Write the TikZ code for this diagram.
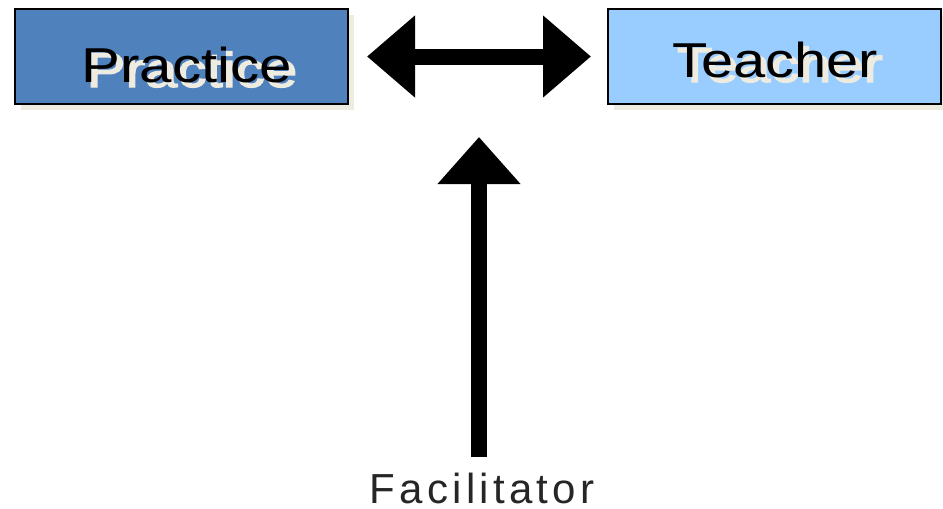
\documentclass[tikz,border=0pt]{standalone}
\usepackage{fontspec}
\setmainfont{Liberation Sans}
\newfontfamily\shfont[FakeBold=2.5]{Liberation Sans}
\newfontfamily\facfont[LetterSpace=10]{Liberation Sans}
\usetikzlibrary{arrows.meta,shadows}
\definecolor{practicefill}{HTML}{4F81BD}
\definecolor{teacherfill}{HTML}{99CCFF}
\definecolor{shadowbeige}{HTML}{EEECE1}
\newcommand{\shadowedtext}[2]{%
  \makebox[0pt][l]{\hspace*{5pt}\raisebox{-5pt}{\color{shadowbeige}\shfont\scalebox{#1}[1]{#2}}}%
  \scalebox{#1}[1]{#2}}
\tikzset{
  box/.style={draw=black, line width=2pt, minimum width=333pt, minimum height=95pt,
    inner sep=0pt, outer sep=0pt,
    drop shadow={shadow xshift=5.5pt, shadow yshift=-5.5pt, fill=shadowbeige, opacity=1}},
  boxlabel/.style={anchor=base, inner sep=0pt, font=\fontsize{49}{49}\selectfont},
  faclabel/.style={anchor=base, inner sep=0pt, text=black!85, font=\fontsize{42}{42}\selectfont\facfont},
  bigarrow/.style={line width=16pt, draw=black},
  bigtip/.tip={Triangle[length=48pt, width=79pt]}
}
\begin{document}
\begin{tikzpicture}[x=1pt,y=-1pt]
\useasboundingbox[fill=white] (0,0) rectangle (943,509);
\node[box, fill=practicefill] (practice) at (181.5,56.5) {};
\node[box, fill=teacherfill] (teacher) at (774.5,56.5) {};
\node[boxlabel] (practicetext) at (187,82) {\shadowedtext{1.19}{Practice}};
\node[boxlabel] (teachertext) at (775,77) {\shadowedtext{1.18}{Teacher}};
\node[faclabel] (fac) at (482,503) {Facilitator};
\draw[bigarrow, {bigtip}-{bigtip}, shorten <=19pt, shorten >=17pt] (practice.east) -- (teacher.west);
\coordinate (vtop) at (479,137);
\coordinate (vbot) at (479,457);
\draw[bigarrow, -{Triangle[length=47pt, width=80pt]}] (vbot) -- (vtop);
\end{tikzpicture}
\end{document}
